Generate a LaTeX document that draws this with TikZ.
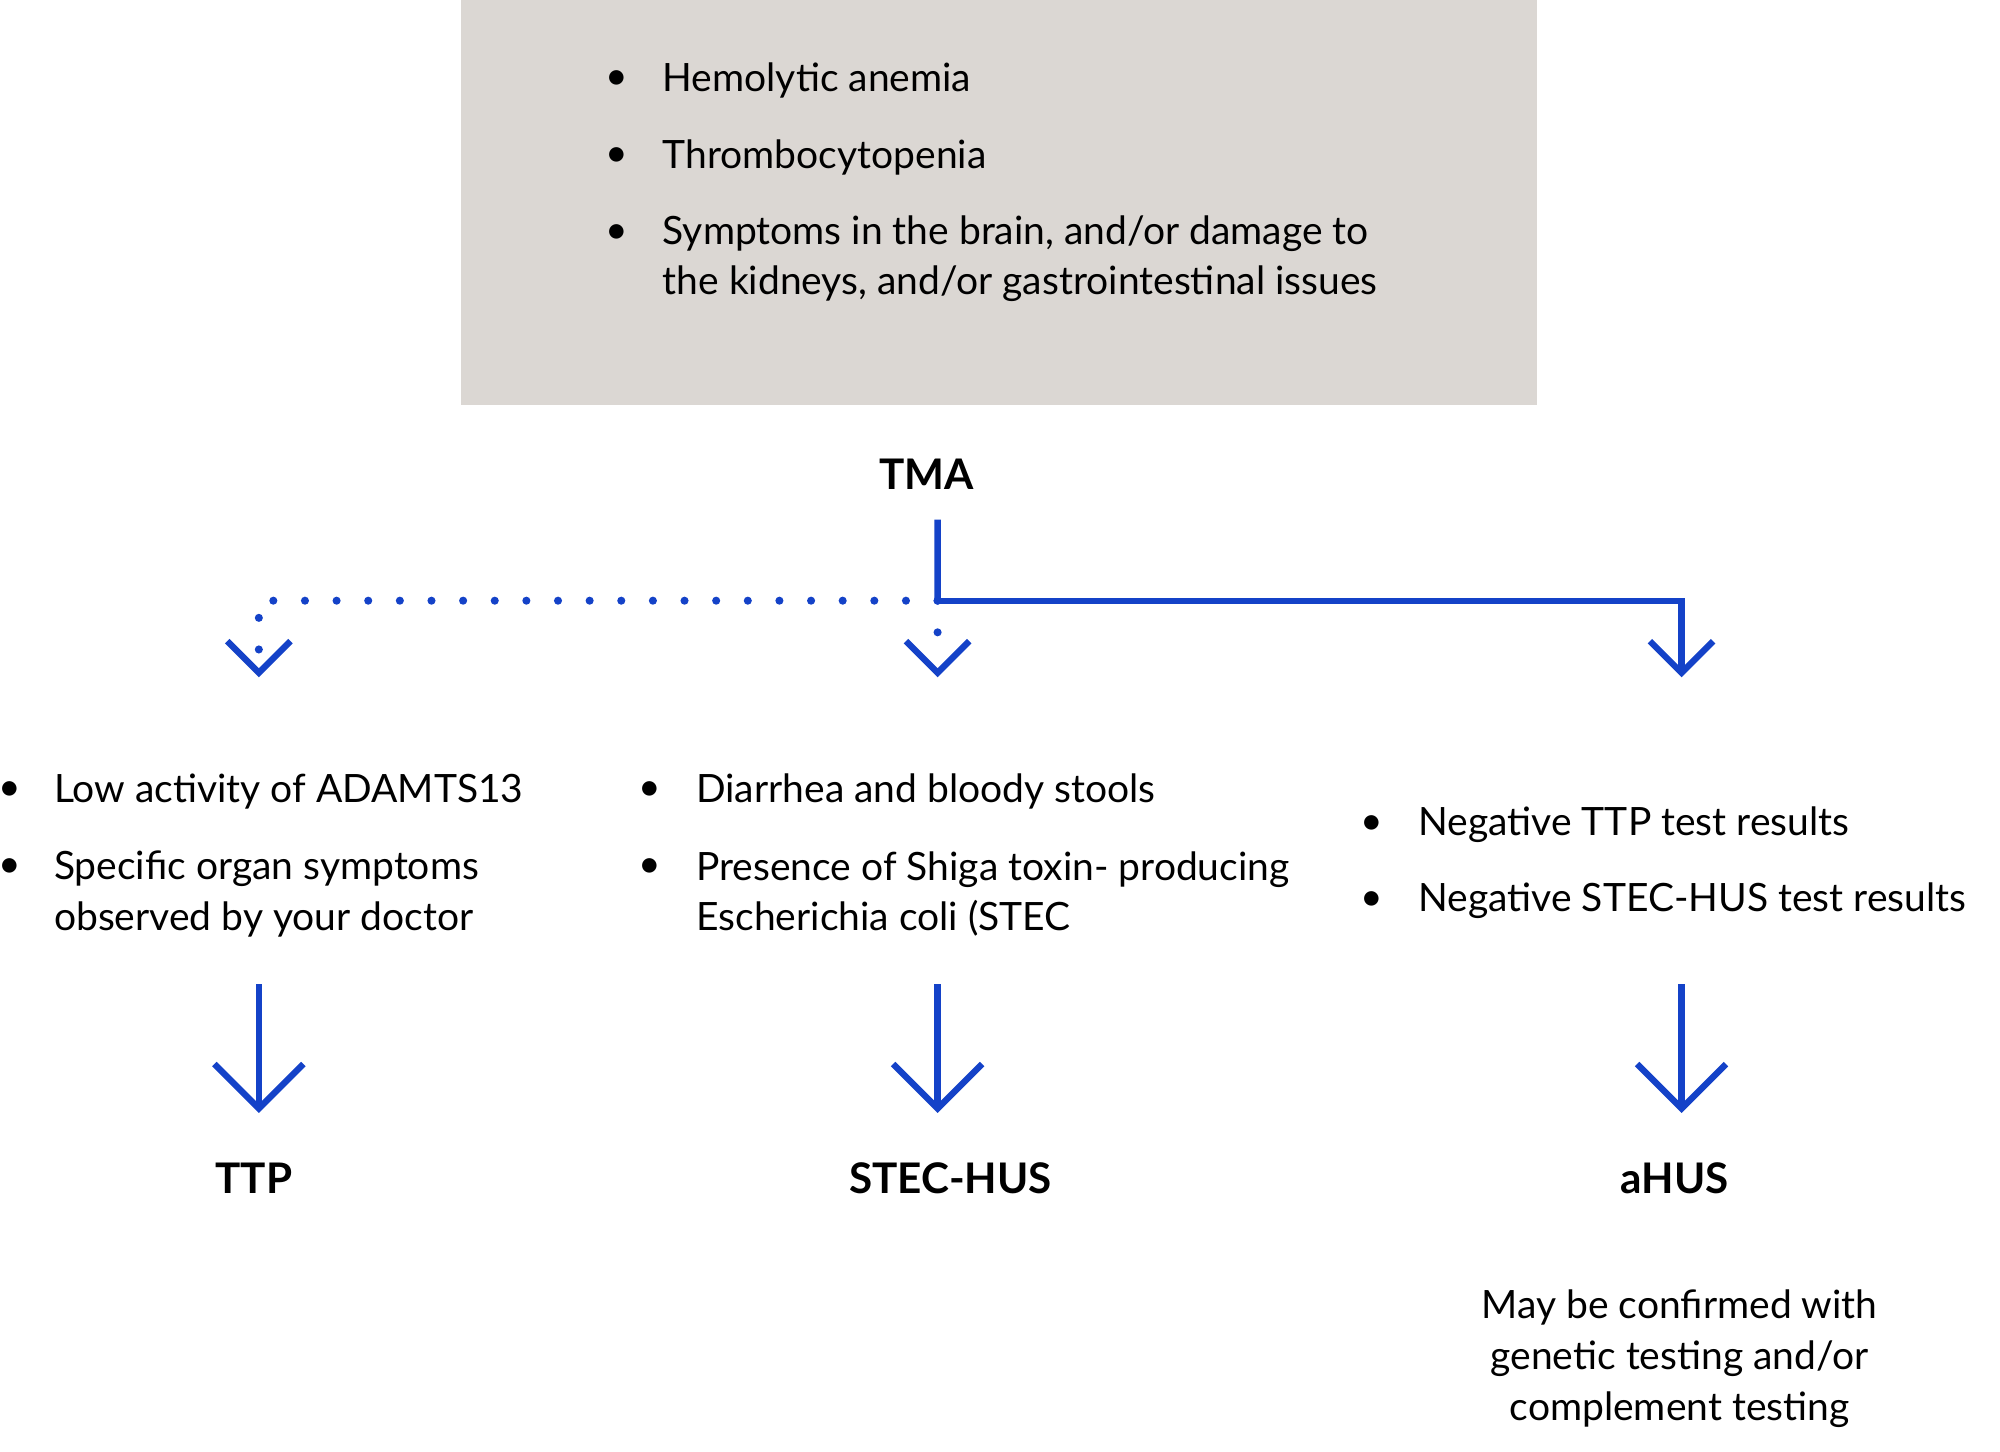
\documentclass[tikz,border=0pt]{standalone}
\usepackage{fontspec}
\setmainfont{Lato}
\usetikzlibrary{positioning,calc}
\definecolor{boxgrey}{HTML}{DBD7D3}
\definecolor{flowblue}{HTML}{1442C8}
\tikzset{
	txt/.style = {inner sep=0pt, anchor=west, align=left, font=\fontsize{11.1}{14.4}\selectfont},
	bul/.style = {inner sep=0pt, font=\fontsize{11.1}{14.4}\selectfont},
	lbl/.style = {inner sep=0pt, font=\fontsize{12}{14}\selectfont\bfseries},
	flow/.style = {flowblue, line width=1.8pt},
	dots/.style = {flowblue, line width=2.3pt, line cap=round, dash pattern=on 0pt off 9pt},
}
% open chevron head at a tip point
\newcommand{\chev}[3]{\draw[flow, line join=miter] ($(#1)+(-#2,#3)$) -- (#1) -- ($(#1)+(#2,#3)$);}
\begin{document}
\begin{tikzpicture}
	\useasboundingbox (0,0) rectangle (20,-14.52);
	\begin{scope}[scale=0.988]
	\fill[boxgrey] (4.67,0) rectangle (15.56,-4.10);
	% symptoms in the box
	\foreach \y in {-0.81,-1.59,-2.37} \node[bul] at (6.24,\y) {\textbullet};
	\node[txt] (hem) at (6.70,-0.81) {Hemolytic anemia};
	\node[txt] (thr) at (6.70,-1.59) {Thrombocytopenia};
	\node[txt] (sym) at (6.70,-2.62) {Symptoms in the brain, and/or damage to\\the kidneys, and/or gastrointestinal issues};
	% TMA and branches
	\node[lbl] (tma) at (9.38,-4.80) {TMA};
	\coordinate (split) at (9.49,-6.08);
	\coordinate (tipL) at (2.62,-6.81);
	\coordinate (tipM) at (9.49,-6.81);
	\coordinate (tipR) at (17.02,-6.81);
	\draw[flow] (9.49,-5.26) -- (split);
	\draw[flow] (split) -| (tipR);
	\draw[dots] (split) -| ($(tipL)+(0,0.1)$);
	\draw[dots] (split) -- ($(tipM)+(0,0.1)$);
	\chev{tipL}{0.32}{0.32}
	\chev{tipM}{0.32}{0.32}
	\chev{tipR}{0.32}{0.32}
	% criteria
	\foreach \x/\y in {0.10/-8.01, 0.10/-8.79, 6.58/-8.01, 6.58/-8.79, 13.88/-8.35, 13.88/-9.12}
		\node[bul] at (\x,\y) {\textbullet};
	\node[txt] (ttpa) at (0.54,-8.01) {Low activity of ADAMTS13};
	\node[txt] (ttpb) at (0.54,-9.05) {Specific organ symptoms\\observed by your doctor};
	\node[txt] (stca) at (7.04,-8.01) {Diarrhea and bloody stools};
	\node[txt] (stcb) at (7.04,-9.05) {Presence of Shiga toxin- producing\\Escherichia coli (STEC};
	\node[txt] (ahsa) at (14.35,-8.35) {Negative TTP test results};
	\node[txt] (ahsb) at (14.35,-9.12) {Negative STEC-HUS test results};
	% diagnoses
	\node[lbl] (ttp) at (2.57,-11.93) {TTP};
	\node[lbl] (stec) at (9.62,-11.93) {STEC-HUS};
	\node[lbl] (ahus) at (16.95,-11.93) {aHUS};
	\foreach \x/\n in {2.62/L, 9.49/M, 17.02/R} {
		\coordinate (top\n) at (\x,-9.96);
		\coordinate (bot\n) at (\x,-11.22);
		\draw[flow] (top\n) -- (bot\n);
		\chev{bot\n}{0.45}{0.45}
	}
	\node[txt, anchor=north, align=center] (conf) at (17.00,-13.05) {May be confirmed with\\genetic testing and/or\\complement testing};
	\end{scope}
\end{tikzpicture}
\end{document}
